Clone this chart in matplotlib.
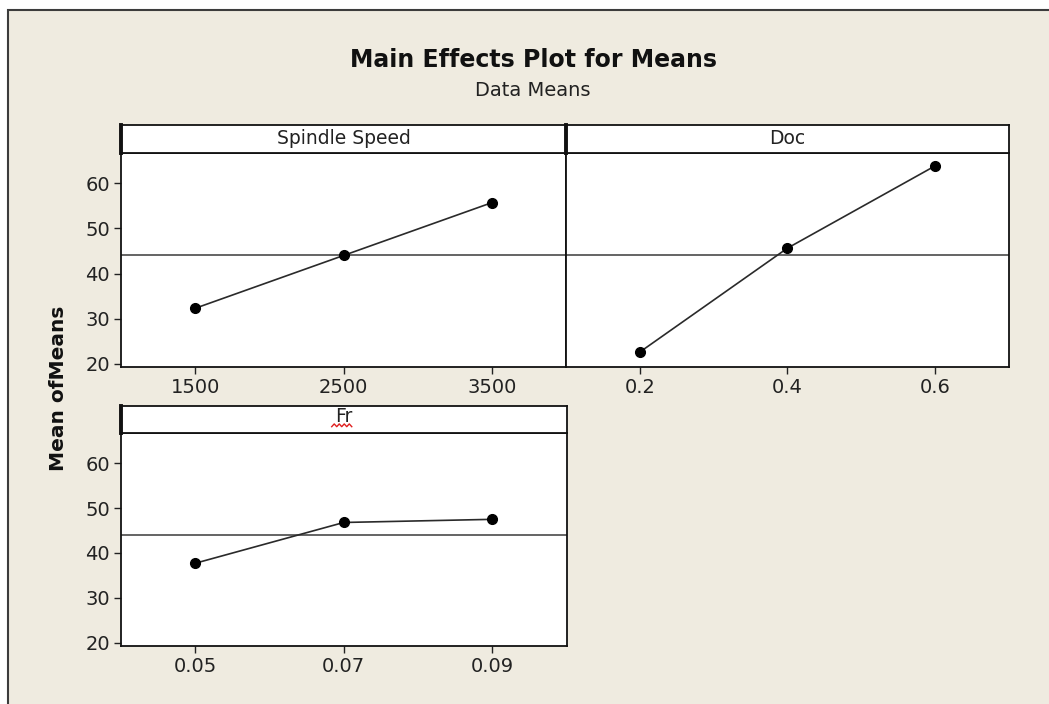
import numpy as np
import matplotlib
matplotlib.use('Agg')
import matplotlib.pyplot as plt
from matplotlib.patches import Rectangle

W, H = 1049, 704

# data means
spindle_levels = [1500, 2500, 3500]
spindle_means = [32.3, 44.0, 55.7]
doc_levels = [0.2, 0.4, 0.6]
doc_means = [22.6, 45.6, 63.8]
fr_levels = [0.05, 0.07, 0.09]
fr_means = [37.7, 46.8, 47.5]
grand_mean = 44.1

y_ticks = [20, 30, 40, 50, 60]
spindle_labels = ['1500', '2500', '3500']
doc_labels = ['0.2', '0.4', '0.6']
fr_labels = ['0.05', '0.07', '0.09']

BG = '#efebe0'
FONT = 'DejaVu Sans'
plt.rcParams['font.family'] = FONT


def rect(x0, y0, x1, y1):
    # pixel box (top-left origin) -> figure fraction rect
    return [x0 / W, 1 - y1 / H, (x1 - x0) / W, (y1 - y0) / H]


fig = plt.figure(figsize=(W / 100, H / 100), dpi=100, facecolor='white')

# beige frame that runs off the right and bottom edge
frame = Rectangle((8 / W, -0.1), 1.2, 1.1 - 10 / H, transform=fig.transFigure,
                  facecolor=BG, edgecolor='#3c3c3c', linewidth=1.5, zorder=-10)
fig.patches.append(frame)

fig.text(533 / W, 1 - 60 / H, 'Main Effects Plot for Means', ha='center', va='center',
         fontsize=17, fontweight='bold', color='#111111')
fig.text(533 / W, 1 - 90 / H, 'Data Means', ha='center', va='center',
         fontsize=14, color='#222222')
fig.text(59 / W, 1 - 388 / H, 'Mean ofMeans', ha='center', va='center', rotation=90,
         fontsize=14.5, fontweight='bold', color='#111111')


def panel(box, header_top, title, levels, means, labels, xlim, show_y=True, title_y=0.5):
    x0, y0, x1, y1 = box
    ax = fig.add_axes(rect(x0, y0, x1, y1))
    ax.set_facecolor('white')
    ax.axhline(grand_mean, color='#3a3a3a', linewidth=1.1, zorder=1)
    ax.plot(levels, means, color='#2a2a2a', linewidth=1.2, marker='o',
            markersize=7, markerfacecolor='black', markeredgecolor='black', zorder=3)
    ax.set_xlim(*xlim)
    ax.set_ylim(19.3, 66.7)
    ax.set_xticks(levels)
    ax.set_xticklabels(labels)
    ax.set_yticks(y_ticks)
    ax.tick_params(axis='both', direction='out', length=5, width=1, labelsize=14,
                   colors='#222222', pad=3)
    if not show_y:
        ax.tick_params(axis='y', left=False, labelleft=False)
    for s in ax.spines.values():
        s.set_linewidth(1.3)
        s.set_color('#111111')

    hd = fig.add_axes(rect(x0, header_top, x1, y0))
    hd.set_facecolor('white')
    hd.set_xticks([])
    hd.set_yticks([])
    for s in hd.spines.values():
        s.set_linewidth(1.3)
        s.set_color('#111111')
    hd.spines['left'].set_linewidth(2.8)
    hd.text(0.5, title_y, title, ha='center', va='center', fontsize=13.5,
            color='#222222', transform=hd.transAxes)
    return ax, hd


panel((121, 153, 566, 367), 124.5, 'Spindle Speed', spindle_levels, spindle_means,
      spindle_labels, (1000, 4000))
panel((566, 153, 1008.5, 367), 124.5, 'Doc', doc_levels, doc_means,
      doc_labels, (0.1, 0.7), show_y=False)
ax_fr, hd_fr = panel((121, 433.3, 566.5, 645.7), 405.7, 'Fr', fr_levels, fr_means,
                     fr_labels, (0.04, 0.10), title_y=0.62)

# red spell-check squiggle under "Fr"
sq_x = np.linspace(0.473, 0.518, 9)
sq_y = 0.24 + 0.10 * np.array([0, 1] * 4 + [0])
hd_fr.plot(sq_x, sq_y, color='#e02020', linewidth=1.0, transform=hd_fr.transAxes,
           clip_on=False)

fig.savefig('out.png', dpi=100, facecolor=fig.get_facecolor())
